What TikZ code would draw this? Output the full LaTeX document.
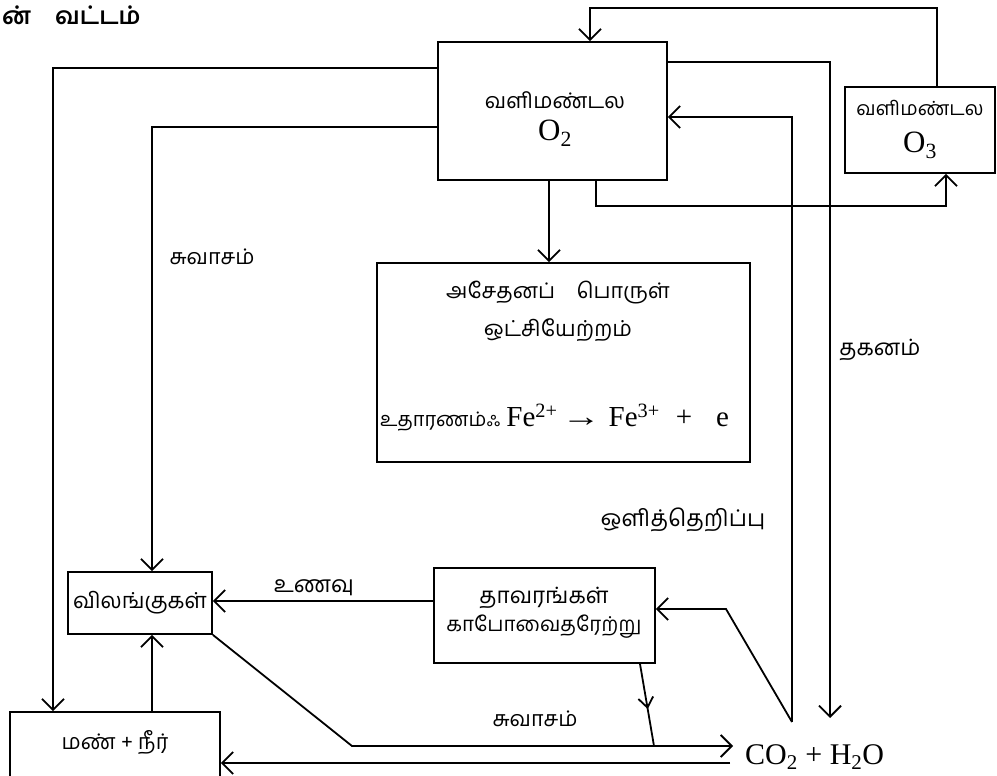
\documentclass[tikz,border=0pt]{standalone}
\usepackage{fontspec}
\usepackage{graphicx}
\setmainfont{Liberation Serif}
\newfontfamily\tam[Script=Tamil]{Hind Madurai}
\usetikzlibrary{arrows.meta,decorations.markings}
\newcommand\tamsz[1]{\tam\fontsize{#1}{#1}\selectfont}
\newcommand\romsz[1]{\rmfamily\fontsize{#1}{#1}\selectfont}
\begin{document}
\begin{tikzpicture}[x=1pt,y=-1pt,
  ln/.style={line width=1.8pt},
  arr/.style={-{Straight Barb[length=11pt,width=22pt,line width=1.8pt]}},
  midarr/.style={postaction={decorate},decoration={markings,
     mark=at position 0.55 with {\arrow{Straight Barb[length=10pt,width=15pt,line width=1.8pt]}}}},
  box/.style={draw,line width=1.8pt,inner sep=0pt},
  txt/.style={inner sep=0pt,align=center}]
\clip (0,0) rectangle (997,776);
\fill[white] (0,0) rectangle (997,776);

% boxes
\node[box,minimum width=229pt,minimum height=138pt] (O2) at (552.5,111) {};
\node[box,minimum width=150pt,minimum height=86pt] (O3) at (920,130) {};
\node[box,minimum width=373pt,minimum height=199pt] (ox) at (563.5,362.5) {};
\node[box,minimum width=221pt,minimum height=95pt] (plants) at (544.5,615.5) {};
\node[box,minimum width=144pt,minimum height=62pt] (animals) at (140,603) {};
\node[box,minimum width=210pt,minimum height=80pt] (soil) at (115,752) {};

% texts
\node[txt,anchor=west] (title) at (2,15) {\tamsz{24}\bfseries ன்\hspace{24pt}வட்டம்};
\node[txt] (o2a) at (555,100) {\tamsz{21.5}வளிமண்டல};
\node[txt] (o2b) at (555,133) {\romsz{31}O\textsubscript{2}};
\node[txt] (o3a) at (920,108) {\tamsz{19.5}வளிமண்டல};
\node[txt] (o3b) at (920,145) {\romsz{31}O\textsubscript{3}};
\node[txt] (oxa) at (558,293) {\tamsz{21.5}அசேதனப்\quad பொருள்};
\node[txt] (oxb) at (558,330) {\tamsz{22}ஒட்சியேற்றம்};
\node[txt,anchor=west] (oxc) at (380,418) {\tamsz{20}உதாரணம்ஃ\hspace{6pt}\romsz{29}Fe\textsuperscript{2+}\hspace{4pt}\scalebox{1.35}[1]{→}\hspace{8pt}Fe\textsuperscript{3+}\hspace{16pt}+\hspace{24pt}e};
\node[txt] (pla) at (544,598) {\tamsz{22.5}தாவரங்கள்};
\node[txt] (plb) at (544,627) {\tamsz{20.5}காபோவைதரேற்று};
\node[txt] (ani) at (140,603) {\tamsz{22}விலங்குகள்};
\node[txt] (soi) at (115,742) {\tamsz{21.5}மண் + நீர்};
\node[txt,anchor=west] (co2) at (745,757) {\romsz{30}CO\textsubscript{2} + H\textsubscript{2}O};
\node[txt] (resp1) at (212,257) {\tamsz{21.5}சுவாசம்};
\node[txt] (resp2) at (535,719) {\tamsz{21.5}சுவாசம்};
\node[txt] (food) at (314,588) {\tamsz{23}உணவு};
\node[txt] (burn) at (880,350) {\tamsz{22.5}தகனம்};
\node[txt] (photo) at (683,520) {\tamsz{23}ஒளித்தெறிப்பு};

% coordinates
\coordinate (t1) at (937,8);
\coordinate (t2) at (590,8);
\coordinate (u1) at (596,206);
\coordinate (u2) at (946,206);
\coordinate (r1) at (830,62);
\coordinate (r2) at (830,718);
\coordinate (c1) at (792,722);
\coordinate (c2) at (792,117);
\coordinate (d1) at (726,609);
\coordinate (l1) at (53,68);
\coordinate (l2) at (152,127);
\coordinate (m1) at (549,200);
\coordinate (f1) at (300,601);
\coordinate (b1) at (352,746);
\coordinate (b2) at (733,746);
\coordinate (p1) at (640,663);
\coordinate (p2) at (654,746);
\coordinate (b3) at (730,763);

% connectors
\draw[ln,arr] (O3.north -| t1) -- (t1) -- (t2) -- (O2.north -| t2);
\draw[ln,arr] (O2.south -| u1) -- (u1) -- (u2) -- (O3.south -| u2);
\draw[ln,arr] (O2.east |- r1) -- (r1) -- (r2);
\draw[ln,arr] (c1) -- (c2) -- (O2.east |- c2);
\draw[ln,arr] (c1) -- (d1) -- (plants.east |- d1);
\draw[ln,arr] (O2.west |- l1) -- (l1) -- (soil.north -| l1);
\draw[ln,arr] (O2.west |- l2) -- (l2) -- (animals.north -| l2);
\draw[ln,arr] (O2.south -| m1) -- (ox.north -| m1);
\draw[ln,arr] (plants.west |- f1) -- (animals.east |- f1);
\draw[ln,arr] (soil.north -| l2) -- (animals.south -| l2);
\draw[ln,arr] (animals.south east) -- (b1) -- (b2);
\draw[ln,midarr] (plants.south -| p1) -- (p2);
\draw[ln,arr] (b3) -- (soil.east |- b3);
\end{tikzpicture}
\end{document}
